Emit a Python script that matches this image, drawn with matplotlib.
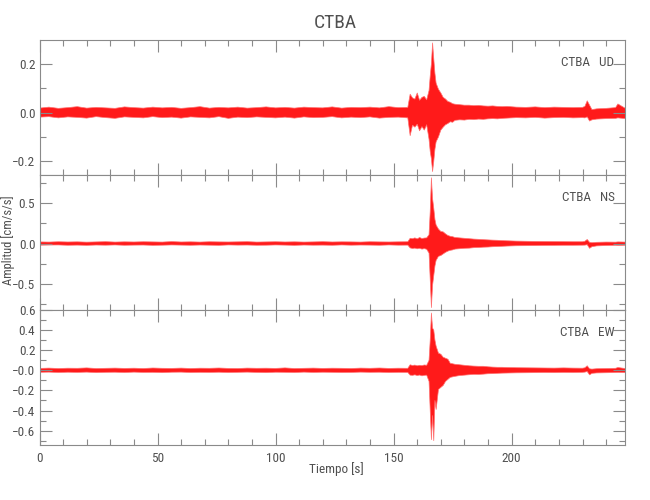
import matplotlib
matplotlib.use('Agg')
import matplotlib.pyplot as plt
from matplotlib import font_manager
from matplotlib.ticker import FixedLocator, MultipleLocator

# time knots (s) shared by the three channels
t = [0, 4, 8, 12, 16, 20, 24, 28, 32, 36, 40, 44, 48, 52, 56, 60, 64, 68, 72, 76,
     80, 84, 88, 92, 96, 100, 104, 108, 112, 116, 120, 124, 128, 132, 136, 140, 144, 148, 152, 156,
     157, 158, 159, 160, 161, 162, 163, 164, 165, 165.5, 166, 166.5, 167, 167.5, 168, 169, 170,
     171, 172, 173, 174, 175, 176,
     178, 180, 182, 184, 186, 188, 190, 192, 194, 196, 198,
     202, 206, 210, 214, 218, 222, 226, 230, 231, 232, 233, 234,
     236, 240, 244, 245, 248]

# upper / lower envelope of each trace (cm/s/s)
ud_hi = [0.018, 0.022, 0.017, 0.020, 0.024, 0.018, 0.021, 0.019, 0.017, 0.023, 0.020, 0.018, 0.022, 0.019,
         0.021, 0.017, 0.020, 0.024, 0.018, 0.021, 0.019, 0.022, 0.018, 0.020, 0.023, 0.019, 0.021, 0.018,
         0.022, 0.020, 0.019, 0.023, 0.018, 0.021, 0.020, 0.022, 0.019, 0.024, 0.020, 0.021,
         0.075, 0.060, 0.055, 0.080, 0.050, 0.062, 0.066, 0.052, 0.090, 0.150, 0.200, 0.285, 0.220, 0.160,
         0.120, 0.095, 0.080, 0.062, 0.055, 0.045, 0.042, 0.036, 0.034,
         0.032, 0.030, 0.030, 0.028, 0.029, 0.027, 0.026, 0.027, 0.025, 0.024, 0.025,
         0.022, 0.021, 0.023, 0.020, 0.022, 0.021, 0.020, 0.021, 0.025, 0.048, 0.030, 0.012,
         0.015, 0.017, 0.020, 0.035, 0.018]
ud_lo = [-0.019, -0.017, -0.022, -0.018, -0.020, -0.023, -0.017, -0.021, -0.024, -0.018, -0.020, -0.022,
         -0.017, -0.021, -0.019, -0.023, -0.018, -0.020, -0.022, -0.017, -0.024, -0.019, -0.021, -0.018,
         -0.020, -0.022, -0.019, -0.023, -0.018, -0.021, -0.020, -0.017, -0.022, -0.019, -0.021, -0.018,
         -0.023, -0.020, -0.019, -0.022,
         -0.095, -0.052, -0.060, -0.048, -0.075, -0.058, -0.072, -0.050, -0.110, -0.160, -0.190, -0.242,
         -0.200, -0.150, -0.120, -0.100, -0.072, -0.060, -0.050, -0.045, -0.038, -0.040, -0.032,
         -0.030, -0.031, -0.028, -0.029, -0.027, -0.028, -0.026, -0.025, -0.026, -0.024, -0.023,
         -0.021, -0.022, -0.020, -0.023, -0.021, -0.020, -0.022, -0.021, -0.022, -0.018, -0.035, -0.030,
         -0.027, -0.025, -0.024, -0.022, -0.025]

ns_hi = [0.020, 0.018, 0.022, 0.019, 0.021, 0.017, 0.020, 0.023, 0.018, 0.021, 0.019, 0.022, 0.020, 0.018,
         0.024, 0.019, 0.021, 0.018, 0.022, 0.020, 0.019, 0.021, 0.023, 0.018, 0.020, 0.022, 0.019, 0.021,
         0.018, 0.020, 0.023, 0.019, 0.021, 0.020, 0.018, 0.022, 0.020, 0.019, 0.021, 0.022,
         0.065, 0.060, 0.070, 0.058, 0.075, 0.062, 0.068, 0.070, 0.110, 0.400, 0.820, 0.560, 0.440, 0.300,
         0.230, 0.180, 0.150, 0.145, 0.120, 0.100, 0.090, 0.085, 0.075,
         0.070, 0.065, 0.060, 0.055, 0.052, 0.048, 0.045, 0.042, 0.040, 0.036, 0.034,
         0.030, 0.028, 0.026, 0.025, 0.024, 0.023, 0.022, 0.022, 0.028, 0.050, 0.015, 0.010,
         0.015, 0.018, 0.017, 0.020, 0.018]
ns_lo = [-0.021, -0.019, -0.018, -0.022, -0.020, -0.023, -0.019, -0.021, -0.018, -0.022, -0.020, -0.019,
         -0.023, -0.021, -0.018, -0.020, -0.022, -0.019, -0.021, -0.023, -0.018, -0.020, -0.019, -0.022,
         -0.021, -0.018, -0.020, -0.023, -0.019, -0.021, -0.020, -0.022, -0.018, -0.021, -0.019, -0.020,
         -0.022, -0.018, -0.021, -0.020,
         -0.055, -0.062, -0.058, -0.066, -0.060, -0.070, -0.064, -0.072, -0.120, -0.450, -0.800, -0.520,
         -0.400, -0.280, -0.210, -0.160, -0.150, -0.130, -0.110, -0.095, -0.085, -0.080, -0.070,
         -0.065, -0.060, -0.058, -0.052, -0.050, -0.046, -0.044, -0.040, -0.038, -0.035, -0.032,
         -0.028, -0.027, -0.026, -0.024, -0.023, -0.022, -0.022, -0.021, -0.020, -0.015, -0.060, -0.040,
         -0.030, -0.025, -0.022, -0.024, -0.022]

ew_hi = [0.019, 0.022, 0.018, 0.021, 0.020, 0.024, 0.018, 0.020, 0.022, 0.019, 0.021, 0.018, 0.023, 0.020,
         0.019, 0.022, 0.018, 0.021, 0.020, 0.023, 0.019, 0.018, 0.022, 0.020, 0.021, 0.019, 0.024, 0.018,
         0.020, 0.022, 0.019, 0.021, 0.020, 0.018, 0.022, 0.020, 0.023, 0.019, 0.021, 0.020,
         0.055, 0.048, 0.052, 0.045, 0.050, 0.047, 0.053, 0.050, 0.100, 0.300, 0.570, 0.420, 0.400, 0.300,
         0.240, 0.170, 0.160, 0.130, 0.120, 0.110, 0.070, 0.065, 0.060,
         0.055, 0.050, 0.045, 0.042, 0.040, 0.040, 0.035, 0.032, 0.030, 0.030, 0.028,
         0.026, 0.025, 0.024, 0.023, 0.022, 0.024, 0.022, 0.021, 0.025, 0.045, 0.015, 0.012,
         0.016, 0.018, 0.020, 0.028, 0.018]
ew_lo = [-0.020, -0.018, -0.022, -0.019, -0.021, -0.018, -0.023, -0.020, -0.019, -0.022, -0.018, -0.021,
         -0.020, -0.023, -0.019, -0.018, -0.022, -0.020, -0.021, -0.019, -0.022, -0.020, -0.018, -0.021,
         -0.023, -0.019, -0.020, -0.022, -0.018, -0.021, -0.019, -0.020, -0.022, -0.021, -0.018, -0.020,
         -0.019, -0.022, -0.020, -0.021,
         -0.048, -0.050, -0.045, -0.052, -0.047, -0.055, -0.050, -0.048, -0.110, -0.400, -0.690, -0.450,
         -0.700, -0.300, -0.390, -0.190, -0.170, -0.150, -0.110, -0.090, -0.070, -0.065, -0.060,
         -0.052, -0.048, -0.044, -0.040, -0.041, -0.038, -0.034, -0.033, -0.030, -0.028, -0.027,
         -0.025, -0.024, -0.023, -0.022, -0.023, -0.021, -0.022, -0.020, -0.018, -0.012, -0.045, -0.030,
         -0.026, -0.024, -0.022, -0.021, -0.023]

station = 'CTBA'
channels = ['UD', 'NS', 'EW']
ylims = [(-0.256, 0.297), (-0.83, 0.855), (-0.743, 0.60)]
yticks = [[-0.2, 0.0, 0.2], [-0.5, 0.0, 0.5], [-0.6, -0.4, -0.2, 0.0, 0.2, 0.4, 0.6]]
yticklabels = [['\u22120.2', '0.0', '0.2'],
               ['\u22120.5', '0.0', '0.5'],
               ['\u22120.6', '\u22120.4', '\u22120.2', '\u22120.0', '0.2', '0.4', '0.6']]
yminor = [0.1, 0.25, 0.1]
xticks = [0, 50, 100, 150, 200]


def pick_font(names):
    for n in names:
        try:
            font_manager.findfont(font_manager.FontProperties(family=n), fallback_to_default=False)
            return n
        except Exception:
            pass
    return 'DejaVu Sans'


narrow = pick_font(['Liberation Sans Narrow', 'Roboto Condensed', 'Open Sans Condensed',
                    'DejaVu Sans Condensed', 'Roboto', 'Liberation Sans'])
FONT = [narrow, 'DejaVu Sans']
TXT = '#505050'
AXC = '#8a8a8a'
FS = 9.5

fig = plt.figure(figsize=(6.5, 5), dpi=100)
L, W = 39.5 / 650, (625 - 39.5) / 650
H = 135 / 500
bottoms = [1 - 175 / 500, 1 - 310 / 500, 1 - 445 / 500]

traces = [(ud_hi, ud_lo), (ns_hi, ns_lo), (ew_hi, ew_lo)]
for i, (hi, lo) in enumerate(traces):
    ax = fig.add_axes([L, bottoms[i], W, H])
    ax.fill_between(t, lo, hi, facecolor='#ff1a1a', lw=0)
    ax.plot(t, hi, color='#ff7070', lw=0.5)
    ax.plot(t, lo, color='#ff7070', lw=0.5)
    ax.set_xlim(0, 248)
    ax.set_ylim(*ylims[i])
    for s in ax.spines.values():
        s.set_color(AXC)
        s.set_linewidth(0.8)
    ax.xaxis.set_major_locator(FixedLocator(xticks))
    ax.xaxis.set_minor_locator(MultipleLocator(10))
    ax.yaxis.set_major_locator(FixedLocator(yticks[i]))
    ax.yaxis.set_minor_locator(MultipleLocator(yminor[i]))
    ax.set_yticklabels(yticklabels[i], family=FONT, color=TXT, fontsize=FS)
    ax.tick_params(which='both', direction='in', top=True, right=True, color=AXC, width=0.8)
    ax.tick_params(which='major', length=8.5, pad=3)
    ax.tick_params(which='minor', length=4.5)
    if i < 2:
        ax.set_xticklabels([])
    else:
        ax.set_xticklabels([str(v) for v in xticks], family=FONT, color=TXT, fontsize=FS)
        ax.tick_params(axis='x', pad=5)
    ax.text(0.982, 0.835, station + '   ' + channels[i], transform=ax.transAxes, ha='right',
            va='center', family=FONT, color=TXT, fontsize=FS)

fig.text(0.516, 1 - 23 / 500, station, ha='center', va='center', family=FONT, color=TXT, fontsize=14)
fig.text(0.517, 1 - 469 / 500, 'Tiempo [s]', ha='center', va='center', family=FONT, color=TXT, fontsize=FS)
fig.text(8 / 650, 1 - 240 / 500, 'Amplitud [cm/s/s]', ha='center', va='center', rotation=90,
         family=FONT, color=TXT, fontsize=9)

fig.savefig('out.png', dpi=100, facecolor='white')
